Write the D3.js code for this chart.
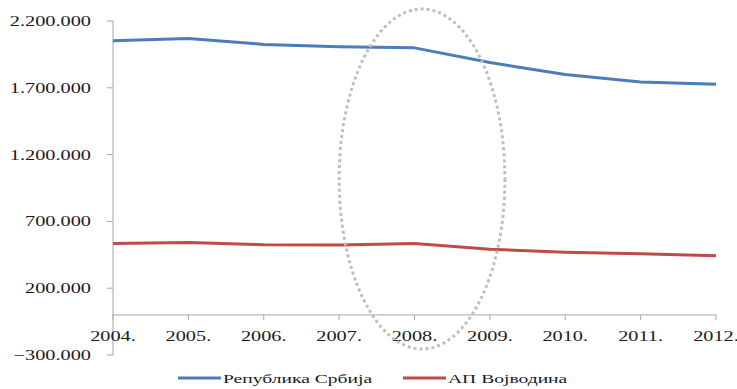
<!DOCTYPE html>
<html><head><meta charset="utf-8">
<script src="https://cdn.jsdelivr.net/npm/d3@7"></script>
<style>body{margin:0;background:#fff}svg{display:block}</style>
</head><body>
<svg id="c" width="737" height="389"></svg>
<script>
const years = [2004,2005,2006,2007,2008,2009,2010,2011,2012];
const serbia = [2052000,2069000,2025000,2007000,1999000,1889000,1800000,1744000,1727000];
const vojvodina = [534000,542000,525000,524000,534000,492000,470000,458000,442000];
const yTicks = [-300000,200000,700000,1200000,1700000,2200000];
const seriesNames = ["Република Србија","АП Војводина"];
const colors = ["#4a7ebb","#be4b48"];
const highlight = {x0:2007.0, x1:2009.2, yTop:2290000, yBottom:-255000};

const svg = d3.select("#c");
const sx = 1.45;
const loc = d3.formatLocale({decimal:",",thousands:".",grouping:[3],currency:["",""]});
const fmt = loc.format(",d");

const x = d3.scaleLinear().domain([2004,2012]).range([113,716]);
const y = d3.scaleLinear().domain([-300000,2200000]).range([355,21]);

function stretchedText(g, tx, ty, str, anchor, size){
  return g.append("text").attr("transform",`translate(${tx},${ty}) scale(${sx},1)`)
    .attr("text-anchor",anchor).attr("font-family","Liberation Serif, Times New Roman, serif")
    .attr("font-size",size).attr("fill","#1a1a1a").text(str);
}

const axisColor = "#a6a6a6";
svg.append("line").attr("x1",x(2004)).attr("x2",x(2004)).attr("y1",y(2200000)).attr("y2",y(-300000)).attr("stroke",axisColor).attr("stroke-width",1);
yTicks.forEach(t=>{
  svg.append("line").attr("x1",x(2004)-6).attr("x2",x(2004)).attr("y1",y(t)).attr("y2",y(t)).attr("stroke",axisColor);
  stretchedText(svg, 91, y(t)+5, fmt(t), "end", 14);
});
svg.append("line").attr("x1",x(2004)).attr("x2",x(2012)).attr("y1",y(0)).attr("y2",y(0)).attr("stroke",axisColor);
years.forEach(yr=>{
  svg.append("line").attr("x1",x(yr)).attr("x2",x(yr)).attr("y1",y(0)).attr("y2",y(0)+5).attr("stroke",axisColor);
  stretchedText(svg, x(yr), y(0)+26, yr+".", "middle", 14);
});

const line = d3.line().x((d,i)=>x(years[i])).y(d=>y(d));
[serbia,vojvodina].forEach((s,i)=>{
  svg.append("path").attr("d",line(s)).attr("fill","none").attr("stroke",colors[i]).attr("stroke-width",3).attr("stroke-linejoin","round");
});

const cx = (x(highlight.x0)+x(highlight.x1))/2, rx=(x(highlight.x1)-x(highlight.x0))/2;
const cy = (y(highlight.yTop)+y(highlight.yBottom))/2, ry=(y(highlight.yBottom)-y(highlight.yTop))/2;
svg.append("ellipse").attr("cx",cx).attr("cy",cy).attr("rx",rx).attr("ry",ry)
  .attr("fill","none").attr("stroke","#bfbfbf").attr("stroke-width",3).attr("stroke-dasharray","3,3");

const legX = [178,403];
seriesNames.forEach((n,i)=>{
  svg.append("line").attr("x1",legX[i]).attr("x2",legX[i]+43).attr("y1",378).attr("y2",378).attr("stroke",colors[i]).attr("stroke-width",3);
  stretchedText(svg, legX[i]+45, 383, n, "start", 13.5);
});
</script>
</body></html>
